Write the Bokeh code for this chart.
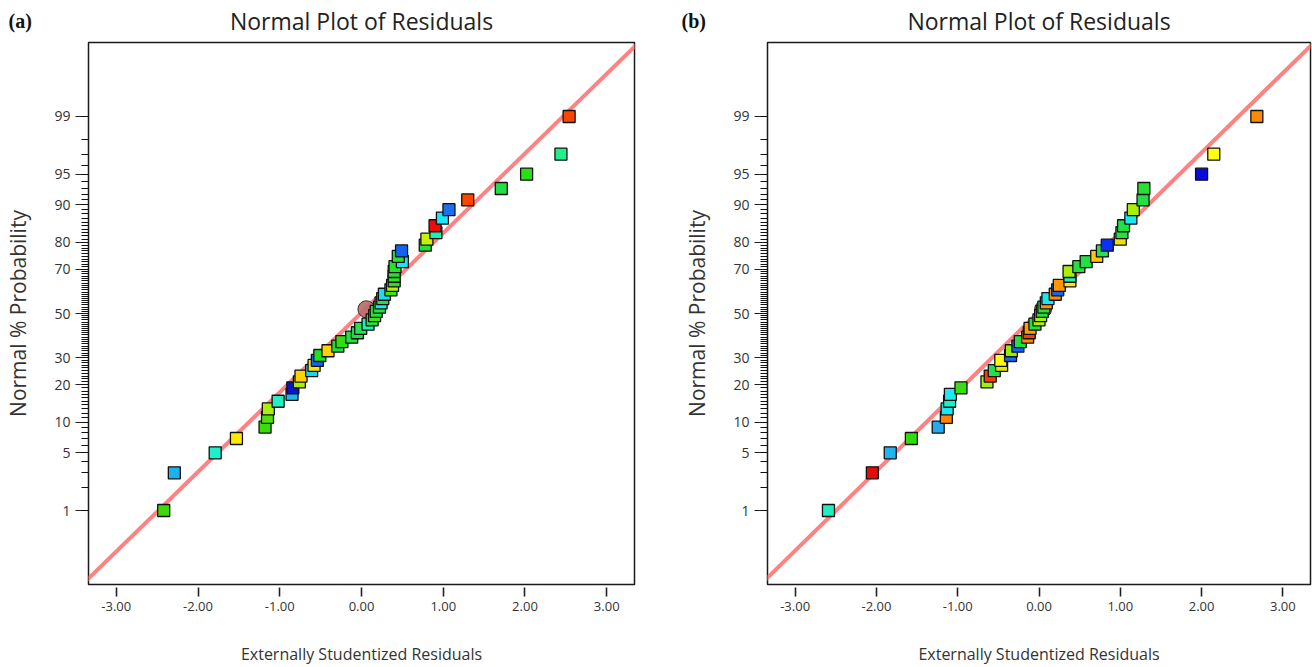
from statistics import NormalDist
from bokeh.plotting import figure
from bokeh.models import Range1d, FixedTicker, NumeralTickFormatter, Slope, Title, ColumnDataSource
from bokeh.layouts import row
from bokeh.embed import file_html
from bokeh.resources import INLINE

# ---------------- data ----------------
PCT = [1, 3, 5, 7, 9, 11, 13, 15, 17, 19, 21, 23, 25, 27, 29, 31, 33, 35, 37, 39,
       41, 43, 45, 47, 49, 51, 53, 55, 57, 59, 61, 63, 65, 67, 69, 71, 73, 75, 77, 79,
       81, 83, 85, 87, 89, 91, 93, 95, 97, 99]

A_RES = [-2.42, -2.29, -1.79, -1.53, -1.18, -1.15, -1.14, -1.02, -0.85, -0.84,
         -0.76, -0.74, -0.61, -0.58, -0.54, -0.51, -0.41, -0.29, -0.24, -0.12,
         -0.05, -0.01, 0.08, 0.13, 0.16, 0.18, 0.22, 0.24, 0.26, 0.28,
         0.36, 0.38, 0.40, 0.40, 0.40, 0.41, 0.50, 0.45, 0.49, 0.78,
         0.80, 0.91, 0.90, 0.99, 1.07, 1.30, 1.71, 2.02, 2.44, 2.54]
A_COL = ["#3CD80A", "#18B4F0", "#1EF0CC", "#FFEA00", "#3CDC0A", "#50E00A", "#A8F00A", "#22F0C4", "#1EB4F0", "#0A14C8",
         "#A8F00A", "#FFD200", "#1ED2F0", "#FFE600", "#1464F0", "#22E022", "#FFD200", "#22DC46", "#32DC14", "#22E044",
         "#22E050", "#2AE055", "#1EF0B4", "#28E03C", "#3CE614", "#28E032", "#22E044", "#1EE6F0", "#22E04A", "#1EDCF0",
         "#3CE614", "#B4F00A", "#28E028", "#32E01E", "#28E032", "#28E028", "#1EE6F0", "#28E03C", "#1464F0", "#28E03C",
         "#C8F00A", "#1EF0B4", "#F00A0A", "#1EE6F8", "#1E6EF0", "#FF4600", "#22E044", "#28E014", "#1EF08C", "#FF4600"]

B_RES = [-2.59, -2.05, -1.83, -1.57, -1.24, -1.14, -1.13, -1.10, -1.09, -0.96,
         -0.64, -0.60, -0.55, -0.46, -0.47, -0.35, -0.34, -0.26, -0.23, -0.14,
         -0.12, -0.11, -0.05, 0.00, 0.02, 0.04, 0.06, 0.09, 0.11, 0.20,
         0.23, 0.25, 0.38, 0.38, 0.37, 0.49, 0.58, 0.71, 0.78, 0.84,
         1.00, 1.02, 1.04, 1.13, 1.16, 1.28, 1.29, 2.00, 2.15, 2.68]
B_COL = ["#1EF0C0", "#E60A0A", "#1EB4F0", "#32DC0A", "#28A8F0", "#FF8200", "#1EE6F0", "#1EF0BE", "#1EE8F0", "#3CDC14",
         "#A0F00A", "#FF3C00", "#22E050", "#E6E600", "#FFFF0A", "#1470F0", "#90F00A", "#1460FF", "#22E044", "#FF8C00",
         "#FF3C00", "#FFA000", "#22E044", "#B0F00A", "#A8F00A", "#22E03C", "#28E032", "#FF9600", "#1EE6F0", "#FF8C00",
         "#1464F0", "#FF9600", "#FFE600", "#1EF0BE", "#A8F00A", "#28E03C", "#22E044", "#FFC800", "#28E050", "#0A32F0",
         "#F0E000", "#28E03C", "#22E044", "#1EE6F0", "#A8F00A", "#22E044", "#28E032", "#0A0ADC", "#FFFF0A", "#FF8C00"]

# highlighted (circled) point of each panel: residual, percent
A_MARK = (0.06, 52)
B_MARK = (0.05, 52)
# reference line: gradient, intercept (in normal-score units)
A_FIT = (0.94, 0.01)
B_FIT = (0.94, 0.02)

PROB_TICKS = [1, 5, 10, 20, 30, 50, 70, 80, 90, 95, 99]
PROB_MINOR = list(range(1, 100))
RES_TICKS = [-3, -2, -1, 0, 1, 2, 3]

TITLE = "Normal Plot of Residuals"
XLABEL = "Externally Studentized Residuals"
YLABEL = "Normal % Probability"

nd = NormalDist()


def zscore(p):
    return nd.inv_cdf(p / 100.0)


FONT = "Open Sans"


def make_panel(tag, res, cols, mark, fit, width, border_left, border_right, tag_offset):
    p = figure(width=width, height=667,
               x_range=Range1d(-3.34, 3.34), y_range=Range1d(-3.2, 3.2),
               output_backend="svg", toolbar_location=None,
               min_border_left=border_left, min_border_right=border_right,
               min_border_top=41, min_border_bottom=81,
               title=None)
    p.grid.visible = False
    p.outline_line_color = "#1a1a1a"
    p.outline_line_width = 1.5
    p.background_fill_color = "white"
    p.border_fill_color = "white"

    # panel tag in the title row at the far left (two blank lines lift it
    # into the same row as the main title)
    p.add_layout(Title(text=tag + "\n \n ", align="left", offset=tag_offset,
                       text_font="Liberation Serif", text_font_style="bold",
                       text_font_size="20px", text_color="#111111",
                       vertical_align="bottom", standoff=-66), "above")
    p.add_layout(Title(text=TITLE, align="center", text_font=FONT,
                       text_font_size="23px", text_font_style="normal",
                       text_color="#222222", vertical_align="middle",
                       standoff=6), "above")

    # y axis: normal probability
    p.yaxis.ticker = FixedTicker(ticks=[zscore(t) for t in PROB_TICKS],
                                 minor_ticks=[zscore(t) for t in PROB_MINOR])
    p.yaxis.major_label_overrides = {zscore(t): str(t) for t in PROB_TICKS}
    p.yaxis.axis_line_color = None
    p.yaxis.major_tick_in = 0
    p.yaxis.major_tick_out = 13
    p.yaxis.minor_tick_in = 0
    p.yaxis.minor_tick_out = 7
    p.yaxis.major_tick_line_color = "#222222"
    p.yaxis.minor_tick_line_color = "#111111"
    p.yaxis.minor_tick_line_width = 1
    p.yaxis.major_label_text_font = FONT
    p.yaxis.major_label_text_font_size = "14px"
    p.yaxis.major_label_text_color = "#333333"
    p.yaxis.major_label_standoff = 5
    p.yaxis.axis_label = YLABEL
    p.yaxis.axis_label_text_font = FONT
    p.yaxis.axis_label_text_font_size = "21px"
    p.yaxis.axis_label_text_font_style = "normal"
    p.yaxis.axis_label_text_color = "#333333"
    p.yaxis.axis_label_standoff = 19

    # x axis: residuals
    p.xaxis.ticker = FixedTicker(ticks=RES_TICKS, minor_ticks=[])
    p.xaxis.formatter = NumeralTickFormatter(format="0.00")
    p.xaxis.axis_line_color = None
    p.xaxis.major_tick_in = -3
    p.xaxis.major_tick_out = 12
    p.xaxis.major_tick_line_color = "#222222"
    p.xaxis.major_tick_line_width = 1.6
    p.xaxis.major_label_text_font = FONT
    p.xaxis.major_label_text_font_size = "13px"
    p.xaxis.major_label_text_color = "#333333"
    p.xaxis.major_label_standoff = 5
    p.xaxis.axis_label = XLABEL
    p.xaxis.axis_label_text_font = FONT
    p.xaxis.axis_label_text_font_size = "16px"
    p.xaxis.axis_label_text_font_style = "normal"
    p.xaxis.axis_label_text_color = "#333333"
    p.xaxis.axis_label_standoff = 29

    p.add_layout(Slope(gradient=fit[0], y_intercept=fit[1], line_color="#FF7B7B",
                       line_width=4, line_alpha=0.95, level="underlay"))

    p.scatter(x=[mark[0]], y=[zscore(mark[1])], marker="circle", size=17,
              fill_color="#B86A6A", fill_alpha=0.9, line_color="#4A2A2A", line_width=1)

    src = ColumnDataSource(dict(x=res, y=[zscore(v) for v in PCT], c=cols))
    p.scatter("x", "y", source=src, marker="square", size=12, fill_color="c",
              line_color="#111111", line_width=1.3)
    return p


pa = make_panel("(a)", A_RES, A_COL, A_MARK, A_FIT, 680, 88, 46, -80)
pb = make_panel("(b)", B_RES, B_COL, B_MARK, B_FIT, 632, 86, 2, -86)

layout = row(pa, pb)
open("out.html", "w").write(file_html(layout, INLINE))
